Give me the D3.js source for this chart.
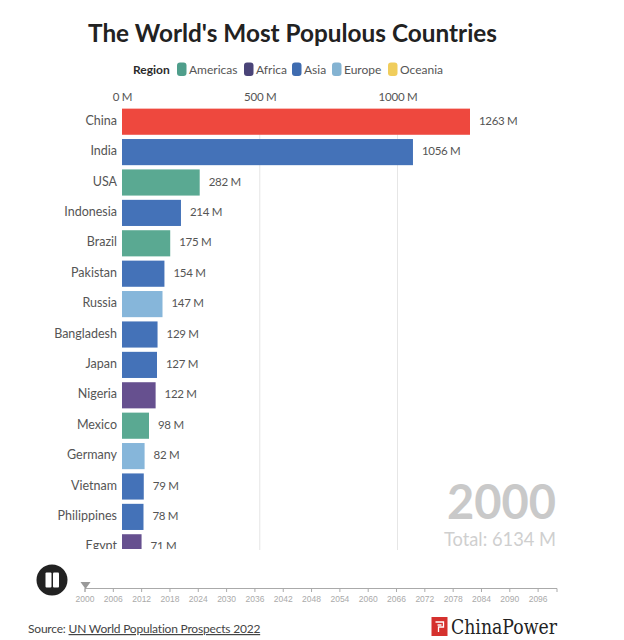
<!DOCTYPE html>
<html>
<head>
<meta charset="utf-8">
<script src="https://cdn.jsdelivr.net/npm/d3@7"></script>
<style>
	html, body { margin: 0; padding: 0; background: #fff; }
	text { font-family: Lato, "Noto Sans", sans-serif; }
</style>
</head>
<body>
<svg id="chart" width="624" height="640"></svg>
<script>
// values for the year 2000, millions
var countries = ['China','India','USA','Indonesia','Brazil','Pakistan','Russia','Bangladesh','Japan','Nigeria','Mexico','Germany','Vietnam','Philippines','Egypt'];
var population = [1263,1056,282,214,175,154,147,129,127,122,98,82,79,78,71];
var regionOf = ['Asia','Asia','Americas','Asia','Americas','Asia','Europe','Asia','Asia','Africa','Americas','Europe','Asia','Asia','Africa'];

var regions = ['Americas','Africa','Asia','Europe','Oceania'];
var legendColors = ['#4f9e8b','#4a4478','#3f6cb0','#84b3d2','#f0cd5c'];
var barColors = ['#5aa992','#66508f','#4472b8','#86b6da','#f0cd5c'];
var xTicks = [0,500,1000];
var timelineTicks = d3.range(2000,2097,6);

var svg = d3.select('#chart');
var color = d3.scaleOrdinal().domain(regions).range(barColors);

var x = d3.scaleLinear().domain([0,1263]).range([122,470]);
var y = d3.scaleBand().domain(countries).range([106.5,562.5]).paddingInner(0.14).paddingOuter(0.07);

svg.append('defs').append('clipPath').attr('id','plotClip')
	.append('rect').attr('x',0).attr('y',100).attr('width',624).attr('height',449);

// title
svg.append('text').attr('x',88).attr('y',42)
	.attr('font-size',25.5).attr('font-weight',700).attr('fill','#222')
	.attr('textLength',409).attr('lengthAdjust','spacingAndGlyphs')
	.text("The World's Most Populous Countries");

// legend
svg.append('text').attr('x',133).attr('y',74).attr('font-size',12).attr('font-weight',700).attr('fill','#2b2b2b').text('Region');
var legendX = [177,244,292,332,388];
var legend = svg.append('g').selectAll('g').data(regions).join('g')
	.attr('transform', function(d,i){ return 'translate(' + legendX[i] + ',62.5)'; });
legend.append('rect').attr('width',9.5).attr('height',13.5).attr('rx',3)
	.attr('fill', function(d,i){ return legendColors[i]; });
legend.append('text').attr('x',12).attr('y',11.5).attr('font-size',12).attr('fill','#555').text(function(d){ return d; });

// gridlines
svg.append('g').selectAll('line').data(xTicks.slice(1)).join('line')
	.attr('x1',x).attr('x2',x).attr('y1',109).attr('y2',550)
	.attr('stroke','#e6e6e6').attr('stroke-width',1);

// top axis
var xAxis = svg.append('g').attr('transform','translate(0,101)')
	.call(d3.axisTop(x).tickValues(xTicks).tickSize(0).tickPadding(0).tickFormat(function(d){ return d + ' M'; }));
xAxis.select('.domain').remove();
xAxis.selectAll('text').attr('font-size',11.5).attr('fill','#555').attr('letter-spacing',-0.2).style('font-family','Lato, "Noto Sans", sans-serif');

var plot = svg.append('g').attr('clip-path','url(#plotClip)');

plot.selectAll('rect').data(countries).join('rect')
	.attr('x',x(0)).attr('y',function(d){ return y(d); })
	.attr('width',function(d,i){ return x(population[i]) - x(0); })
	.attr('height',y.bandwidth())
	.attr('fill',function(d,i){ return d == 'China' ? '#ee483e' : color(regionOf[i]); });

plot.selectAll('text.name').data(countries).join('text').attr('class','name')
	.attr('x',117).attr('y',function(d){ return y(d) + y.bandwidth()/2 + 3; })
	.attr('text-anchor','end').attr('font-size',12.5).attr('fill','#555').text(function(d){ return d; });

plot.selectAll('text.value').data(countries).join('text').attr('class','value')
	.attr('x',function(d,i){ return x(population[i]) + 9; })
	.attr('y',function(d){ return y(d) + y.bandwidth()/2 + 3; })
	.attr('font-size',11.5).attr('letter-spacing',-0.3).attr('fill','#555').text(function(d,i){ return population[i] + ' M'; });

// year and total
svg.append('text').attr('x',556).attr('y',519).attr('text-anchor','end')
	.attr('font-size',47).attr('font-weight',700).attr('fill','#c9c9c9').text('2000');
svg.append('text').attr('x',556).attr('y',546).attr('text-anchor','end')
	.attr('font-size',18.3).attr('fill','#cfcfcf').text('Total: 6134 M');

// pause button
var pause = svg.append('g').attr('transform','translate(52,580)');
pause.append('circle').attr('r',15.5).attr('fill','#222');
pause.append('rect').attr('x',-6.5).attr('y',-7.5).attr('width',6).attr('height',15).attr('rx',1).attr('fill','#fff');
pause.append('rect').attr('x',1).attr('y',-7.5).attr('width',6).attr('height',15).attr('rx',1).attr('fill','#fff');

// timeline
var t = d3.scaleLinear().domain([2000,2100]).range([84.5,556.5]);
var tAxis = svg.append('g').attr('transform','translate(0,588)')
	.call(d3.axisBottom(t).tickValues(timelineTicks).tickFormat(d3.format('d')).tickSize(4).tickPadding(4));
tAxis.select('.domain').attr('stroke','#aaa');
tAxis.selectAll('line').attr('stroke','#aaa');
tAxis.selectAll('text').attr('font-size',8.5).attr('fill','#aaa').style('font-family','"Liberation Sans", sans-serif');
svg.append('path').attr('d','M80.5,582L90.5,582L85.5,589Z').attr('fill','#999');

// source
var source = svg.append('text').attr('x',28).attr('y',633).attr('font-size',12).attr('letter-spacing',-0.2).attr('fill','#444');
source.append('tspan').text('Source: ');
source.append('tspan').attr('text-decoration','underline').text('UN World Population Prospects 2022');

// logo
var logo = svg.append('g').attr('transform','translate(431.5,617)');
logo.append('rect').attr('width',16).attr('height',19).attr('fill','#d5312e');
logo.append('path').attr('d','M4,5H12V10H7V15M6,8H10').attr('fill','none').attr('stroke','#fff').attr('stroke-width',1.3);
svg.append('text').attr('x',451).attr('y',634).attr('font-size',19.5).attr('fill','#222')
	.attr('textLength',106).attr('lengthAdjust','spacingAndGlyphs')
	.style('font-family','"DejaVu Serif", serif').text('ChinaPower');
</script>
</body>
</html>
